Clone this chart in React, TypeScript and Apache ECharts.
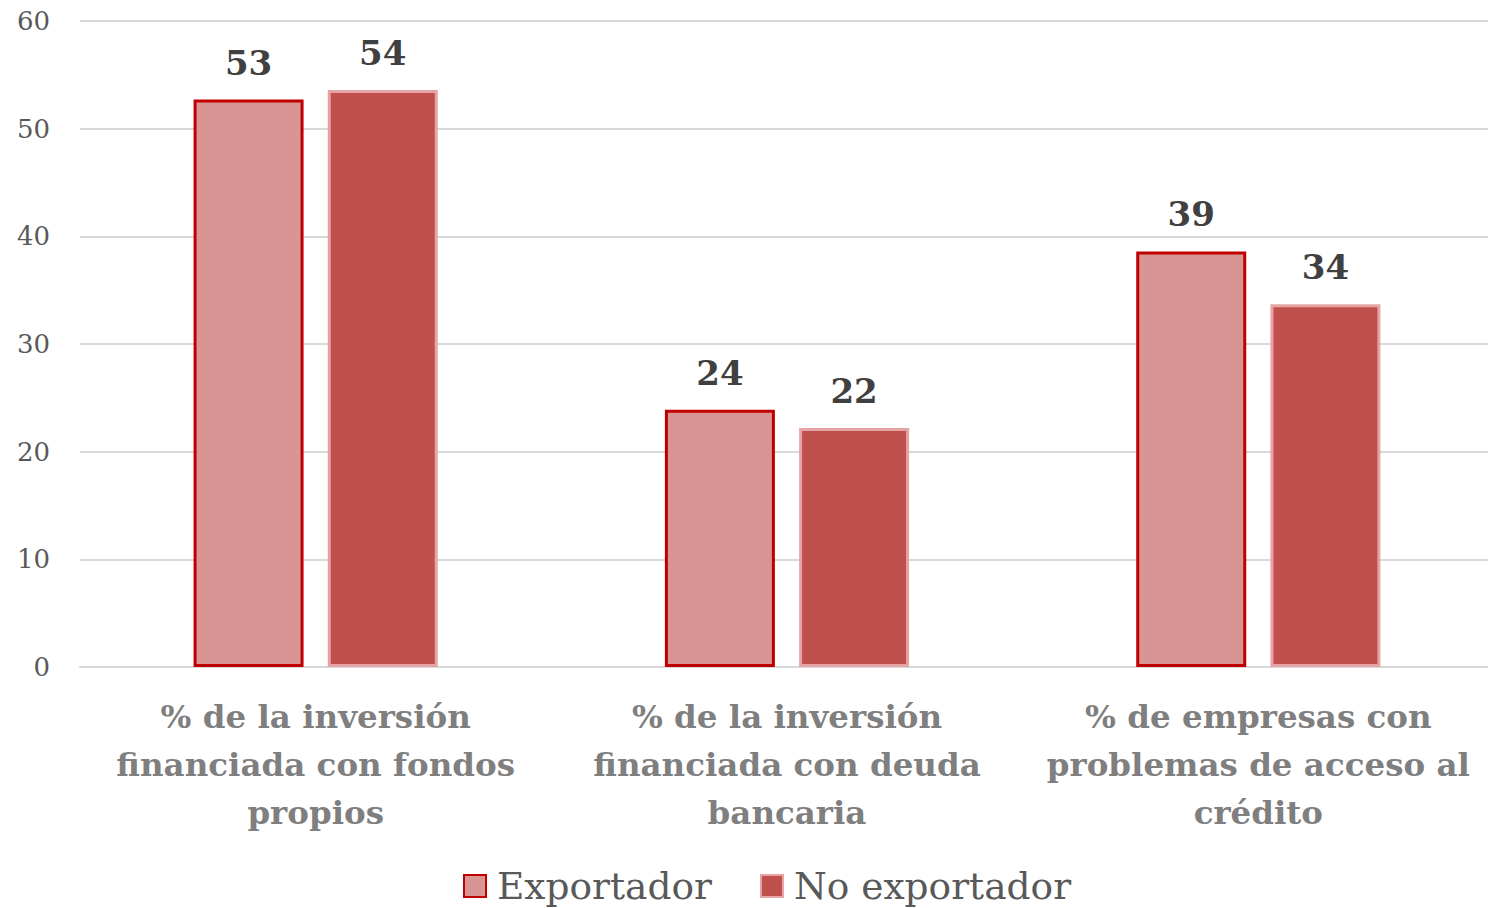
import React, { useEffect, useRef } from "react";
import * as echarts from "echarts";

const categories = [
  "% de la inversión\nfinanciada con fondos\npropios",
  "% de la inversión\nfinanciada con deuda\nbancaria",
  "% de empresas con\nproblemas de acceso al\ncrédito",
];
const seriesNames = ["Exportador", "No exportador"];
const exportador = [52.7, 23.9, 38.6];
const noExportador = [53.6, 22.2, 33.7];
const yTicks = { min: 0, max: 60, interval: 10 };

const FONT = "DejaVu Serif";

export default function App() {
  const ref = useRef<HTMLDivElement>(null);
  useEffect(() => {
    if (!ref.current) return;
    const chart = echarts.init(ref.current, undefined, { renderer: "svg" });
    const labelCfg = {
      show: true,
      position: "top",
      distance: 20,
      fontFamily: FONT,
      fontWeight: "bold",
      fontSize: 34,
      color: "#404040",
      formatter: (p: any) => String(Math.round(p.value)),
    };
    chart.setOption({
      animation: false,
      textStyle: { fontFamily: FONT },
      grid: { left: 80, right: 0, top: 21, height: 646, containLabel: false },
      legend: {
        data: seriesNames,
        left: 458,
        top: 862,
        icon: "rect",
        itemWidth: 22,
        itemHeight: 22,
        itemGap: 48,
        textStyle: {
          fontFamily: FONT,
          fontSize: 37.5,
          color: "#595959",
          padding: [0, 0, 0, 6],
        },
      },
      xAxis: {
        type: "category",
        data: categories,
        axisLine: { lineStyle: { color: "#d9d9d9", width: 2 } },
        axisTick: { show: false },
        axisLabel: {
          interval: 0,
          margin: 25,
          fontFamily: FONT,
          fontWeight: "bold",
          fontSize: 32.5,
          lineHeight: 48,
          color: "#7f7f7f",
        },
      },
      yAxis: {
        type: "value",
        min: yTicks.min,
        max: yTicks.max,
        interval: yTicks.interval,
        axisLine: { show: false },
        axisTick: { show: false },
        splitLine: { lineStyle: { color: "#d9d9d9", width: 2 } },
        axisLabel: { margin: 30, fontFamily: FONT, fontSize: 26, color: "#595959" },
      },
      series: [
        {
          name: seriesNames[0],
          type: "bar",
          data: exportador,
          barWidth: 110,
          barGap: "22%",
          itemStyle: { color: "#d99594", borderColor: "#c00000", borderWidth: 3 },
          label: labelCfg,
        },
        {
          name: seriesNames[1],
          type: "bar",
          data: noExportador,
          barWidth: 110,
          barGap: "22%",
          itemStyle: { color: "#c0504d", borderColor: "#e6a5a4", borderWidth: 3 },
          label: labelCfg,
        },
      ],
    });
    return () => chart.dispose();
  }, []);
  return (
    <div
      style={{
        position: "absolute",
        left: 0,
        top: 0,
        width: 1488,
        height: 908,
        overflow: "hidden",
      }}
    >
      <div ref={ref} style={{ width: 1494, height: 908 }} />
    </div>
  );
}
